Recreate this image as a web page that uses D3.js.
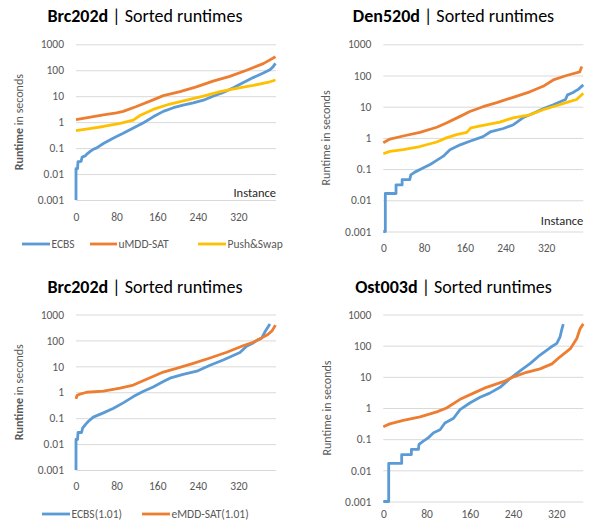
<!DOCTYPE html>
<meta charset="utf-8">
<style>
body { margin: 0; background: #fff; }
svg text { font-family: Carlito, Lato, sans-serif; }
.grid line { stroke: #d9d9d9; stroke-width: 1; }
.series { fill: none; stroke-width: 2.8; stroke-linejoin: round; }
</style>
<body>
<svg class="chart js-chart"></svg>
<script src="https://d3js.org/d3.v7.min.js"></script>
<script>
"use strict";

// [instance, runtime in seconds]
var brcEcbs = [[0,0.001],[0,0.016],[3,0.016],[4,0.03],[10,0.031],[12,0.045],[18,0.05],[22,0.06],[28,0.075],[34,0.09],[40,0.1],[54,0.15],[73,0.24],[93,0.37],[113,0.6],[133,0.95],[152,1.6],[172,2.6],[192,3.6],[211,4.5],[231,5.5],[251,7],[270,10],[290,14],[310,21],[329,33],[349,52],[369,78],[382,105],[388,135],[393,185]];
var brcUmdd = [[0,1.25],[20,1.45],[54,1.9],[80,2.3],[93,2.6],[119,4],[152,7.2],[172,10.5],[205,15],[237,23],[270,38],[303,58],[336,100],[369,180],[393,330]];
var brcPush = [[0,0.47],[30,0.58],[54,0.68],[87,0.9],[113,1.2],[126,1.8],[152,3.1],[185,5],[218,7],[251,10],[284,15],[316,20],[349,26],[382,36],[393,42]];

var denEcbs = [[0,0.001],[4,0.001],[4,0.0165],[25,0.0165],[25,0.031],[37,0.031],[37,0.046],[52,0.046],[54,0.065],[62,0.08],[79,0.11],[92,0.14],[105,0.19],[118,0.26],[131,0.42],[151,0.6],[170,0.78],[196,1.1],[210,1.55],[236,2],[255,2.6],[275,4.5],[295,6.2],[314,8.5],[334,11.5],[358,17],[362,24],[372,28],[383,36],[393,50]];
var denUmdd = [[0,0.7],[13,0.92],[39,1.15],[72,1.5],[105,2.2],[124,3],[151,4.9],[170,7],[196,10],[223,13.5],[255,20],[288,30],[314,45],[334,72],[360,100],[386,130],[388,160],[390,195]];
var denPush = [[0,0.31],[13,0.37],[39,0.42],[72,0.53],[105,0.74],[124,1],[144,1.28],[164,1.5],[172,2.1],[196,2.5],[229,3.2],[255,4.4],[288,5.5],[314,8],[340,10.7],[367,14.8],[380,17],[393,27]];

var brcEcbs101 = [[0,0.001],[0,0.015],[3,0.015],[4,0.028],[11,0.028],[13,0.041],[18,0.055],[24,0.074],[34,0.11],[54,0.16],[74,0.24],[93,0.39],[113,0.68],[133,1.1],[152,1.6],[172,2.6],[185,3.5],[211,4.9],[238,6.5],[264,11],[290,17.5],[323,34],[336,60],[349,80],[358,105],[366,125],[372,210],[382,430]];
var brcEmdd101 = [[0,0.55],[2,0.75],[8,0.85],[21,1.0],[54,1.1],[87,1.43],[113,1.9],[139,3.2],[172,6],[198,8.3],[231,13],[264,21],[297,35],[329,62],[349,85],[366,125],[378,170],[386,230],[393,390]];

var ostEcbs = [[0,0.001],[10,0.001],[10,0.0166],[34,0.0166],[34,0.032],[52,0.032],[52,0.047],[65,0.047],[66,0.068],[74,0.087],[83,0.11],[93,0.16],[105,0.2],[114,0.33],[130,0.47],[142,0.89],[160,1.45],[179,2.2],[197,3],[216,4.6],[235,9],[253,15.5],[272,27],[290,50],[309,87],[321,118],[327,190],[330,320],[333,490]];
var ostEmdd = [[0,0.25],[12,0.31],[37,0.4],[68,0.52],[99,0.75],[117,1.0],[142,1.9],[167,3],[191,4.6],[222,7],[241,10],[265,14],[290,18],[312,26],[327,44],[346,80],[358,170],[364,350],[370,500]];

var xTicks = [0, 80, 160, 240, 320];
var yTicks = [0.001, 0.01, 0.1, 1, 10, 100, 1000];

var blue = '#5b9bd5', orange = '#ed7d31', gold = '#ffc000';

var svg = d3.select('.js-chart')
  .attr('width', 592)
  .attr('height', 521);

var panels = [
  {map: 'Brc202d', boldY: true, left: 76, right: 276, top: 44.3, bottom: 200, maxX: 394, xPad: 13, cx: 145, titleY: 22, yTitleX: 19, instanceY: 197,
    series: [{data: brcEcbs, color: blue, name: 'ECBS'}, {data: brcUmdd, color: orange, name: 'uMDD-SAT'}, {data: brcPush, color: gold, name: 'Push&Swap'}],
    legendY: 244, legend: [[22, 50], [90, 117], [198, 226]]},
  {map: 'Den520d', boldY: false, left: 383.3, right: 583.3, top: 44.3, bottom: 231.5, maxX: 393, xPad: 12.5, cx: 453.5, titleY: 22, yTitleX: 326, instanceY: 225,
    series: [{data: denEcbs, color: blue}, {data: denUmdd, color: orange}, {data: denPush, color: gold}]},
  {map: 'Brc202d', boldY: true, left: 76, right: 276, top: 314.5, bottom: 470, maxX: 394, xPad: 12, cx: 145, titleY: 293, yTitleX: 19,
    series: [{data: brcEcbs101, color: blue, name: 'ECBS(1.01)'}, {data: brcEmdd101, color: orange, name: 'eMDD-SAT(1.01)'}],
    legendY: 514, legend: [[42, 70], [142, 170]]},
  {map: 'Ost003d', boldY: false, left: 383.3, right: 583.3, top: 314.5, bottom: 501.5, maxX: 370, xPad: 8.5, cx: 453.5, titleY: 293, yTitleX: 327,
    series: [{data: ostEcbs, color: blue}, {data: ostEmdd, color: orange}]}
];

function drawPanel(p) {
  var x = d3.scaleLinear().domain([0, p.maxX]).range([p.left, p.right]);
  var y = d3.scaleLog().domain([0.001, 1000]).range([p.bottom, p.top]);
  var g = svg.append('g');

  g.append('g')
    .attr('class', 'grid')
    .attr('transform', 'translate(' + p.left + ',0)')
    .call(d3.axisLeft(y).tickValues(yTicks).tickSize(-(p.right - p.left)).tickPadding(12).tickFormat(String))
    .call(function (a) { a.select('.domain').remove(); })
    .selectAll('text')
      .attr('fill', '#595959')
      .style('font-size', '11.5px');

  g.append('g')
    .attr('transform', 'translate(0,' + p.bottom + ')')
    .call(d3.axisBottom(x).tickValues(xTicks).tickSize(0).tickPadding(p.xPad))
    .call(function (a) { a.select('.domain').remove(); })
    .selectAll('text')
      .attr('fill', '#595959')
      .style('font-size', '11.5px');

  var line = d3.line()
    .x(function (d) { return x(d[0]); })
    .y(function (d) { return y(d[1]); });

  p.series.forEach(function (s) {
    g.append('path')
      .datum(s.data)
      .attr('class', 'series')
      .attr('stroke', s.color)
      .attr('d', line);
  });

  var title = g.append('text')
    .attr('x', p.cx)
    .attr('y', p.titleY)
    .attr('text-anchor', 'middle')
    .attr('fill', '#000')
    .style('font-size', '18px');
  title.append('tspan').attr('font-weight', 'bold').text(p.map);
  title.append('tspan').text(' | Sorted runtimes');

  var yMid = (p.top + p.bottom) / 2;
  var yTitle = g.append('text')
    .attr('transform', 'translate(' + p.yTitleX + ',' + yMid + ') rotate(-90)')
    .attr('text-anchor', 'middle')
    .attr('dy', '0.35em')
    .attr('fill', '#595959')
    .style('font-size', '12px');
  yTitle.append('tspan').attr('font-weight', p.boldY ? 'bold' : 'normal').text('Runtime');
  yTitle.append('tspan').text(' in seconds');

  if (p.instanceY) {
    g.append('text')
      .attr('x', p.right)
      .attr('y', p.instanceY)
      .attr('text-anchor', 'end')
      .attr('fill', '#262626')
      .style('font-size', '12.5px')
      .text('Instance');
  }

  if (p.legend) {
    p.series.forEach(function (s, i) {
      var pos = p.legend[i];
      g.append('line')
        .attr('x1', pos[0]).attr('x2', pos[1])
        .attr('y1', p.legendY).attr('y2', p.legendY)
        .attr('stroke', s.color)
        .attr('stroke-width', 2.8);
      g.append('text')
        .attr('x', pos[1] + 1.5)
        .attr('y', p.legendY)
        .attr('dy', '0.35em')
        .attr('fill', '#595959')
        .style('font-size', '11.5px')
        .text(s.name);
    });
  }
}

panels.forEach(drawPanel);
</script>
</body>
